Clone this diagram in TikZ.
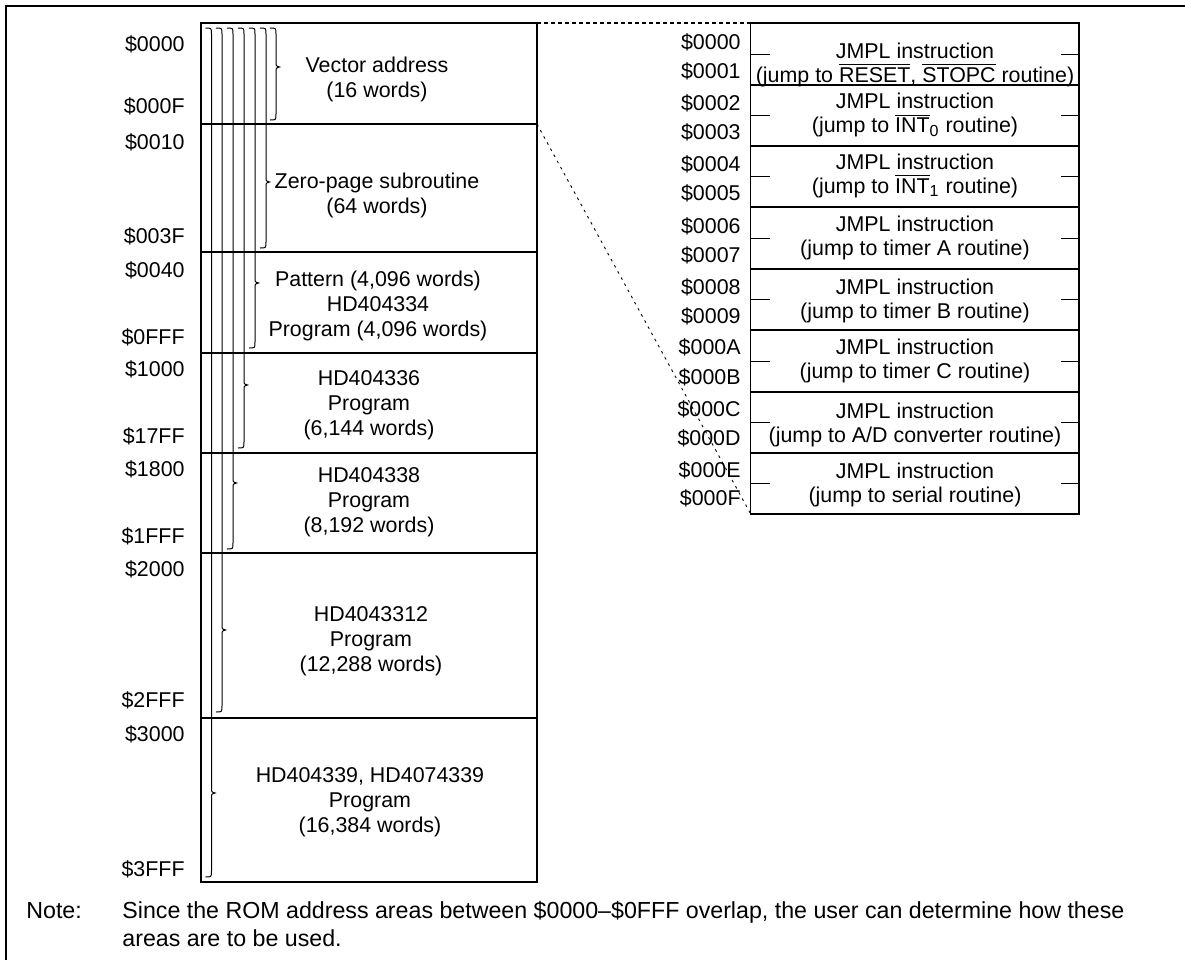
\documentclass[tikz,border=0pt]{standalone}
\usepackage{fontspec}
\setmainfont{Liberation Sans}
\usepackage{tikz}
\pgfdeclarelayer{background}
\pgfdeclarelayer{foreground}
\pgfsetlayers{background,main,foreground}
\tikzset{
  txt/.style={inner sep=0pt, font=\fontsize{10.7}{12.5}\selectfont},
  addr/.style={txt, anchor=east},
  area/.style={txt, align=center},
  jmpl/.style={txt, align=center, font=\fontsize{10.7}{12}\selectfont},
  notetxt/.style={inner sep=0pt, anchor=base west, font=\fontsize{11.6}{14}\selectfont},
  braceline/.style={line width=0.5pt},
  topdash/.style={line width=0.6pt, dash pattern=on 2pt off 1.5pt},
  slantdash/.style={line width=0.45pt, dash pattern=on 1.3pt off 2.2pt},
}
\newcommand{\rombrace}[3]{%
  \draw[braceline] (#1-6,28) .. controls (#1,28) .. (#1,34) -- (#1,#2-5)
    .. controls (#1,#2-1) .. (#1+3.5,#2) .. controls (#1,#2+1) .. (#1,#2+5)
    -- (#1,#3-6) .. controls (#1,#3) .. (#1-6,#3);}
\newcommand{\ovl}[1]{$\overline{\hbox{#1}}$}

\begin{document}
\begin{tikzpicture}[x=0.5pt,y=-0.5pt]
\useasboundingbox (0,0) rectangle (1185,960);
\begin{pgfonlayer}{background}
\draw[line width=1pt] (1185,6) -- (6,6) -- (6,960);
\end{pgfonlayer}
% ROM map
\draw[line width=0.9pt] (201,23) rectangle (537,882);
\draw[line width=0.7pt] (201,124) -- (537,124) (201,252) -- (537,252) (201,353) -- (537,353)
  (201,453) -- (537,453) (201,553) -- (537,553) (201,718) -- (537,718);
\coordinate (mapne) at (537,23);
\coordinate (mapcut) at (537,124);
\rombrace{276}{67}{120}
\rombrace{266}{182}{248}
\rombrace{255}{283}{348}
\rombrace{244}{385}{448}
\rombrace{233}{483}{549}
\rombrace{222}{630}{712}
\rombrace{211.5}{793}{877}
\node[area] (vec) at (377,79.5) {Vector address\\(16 words)};
\node[area] (zero) at (377,195.5) {Zero-page subroutine\\(64 words)};
\node[area] (hd334) at (378,306) {Pattern (4,096 words)\\HD404334\\Program (4,096 words)};
\node[area] (hd336) at (369,405) {HD404336\\Program\\(6,144 words)};
\node[area] (hd338) at (369,502) {HD404338\\Program\\(8,192 words)};
\node[area] (hd3312) at (371,641) {HD4043312\\Program\\(12,288 words)};
\node[area] (hd339) at (370,802) {HD404339, HD4074339\\Program\\(16,384 words)};
\node[addr] (l0000) at (185,44) {\$0000};
\node[addr] (l000F) at (185,106) {\$000F};
\node[addr] (l0010) at (185,142) {\$0010};
\node[addr] (l003F) at (185,236) {\$003F};
\node[addr] (l0040) at (185,270) {\$0040};
\node[addr] (l0FFF) at (185,337) {\$0FFF};
\node[addr] (l1000) at (185,369) {\$1000};
\node[addr] (l17FF) at (185,436) {\$17FF};
\node[addr] (l1800) at (185,469) {\$1800};
\node[addr] (l1FFF) at (185,536) {\$1FFF};
\node[addr] (l2000) at (185,569) {\$2000};
\node[addr] (l2FFF) at (185,700) {\$2FFF};
\node[addr] (l3000) at (185,734) {\$3000};
\node[addr] (l3FFF) at (185,869) {\$3FFF};
% vector table
\draw[line width=0.6pt] (750.7,23) rectangle (1079,514);
\draw[line width=0.6pt] (750.7,85) -- (1079,85) (750.7,146) -- (1079,146) (750.7,207) -- (1079,207)
  (750.7,269) -- (1079,269) (750.7,330) -- (1079,330) (750.7,392) -- (1079,392) (750.7,453) -- (1079,453);
\draw[line width=0.5pt] (750.7,54) -- (770,54) (1061,54) -- (1079,54)
  (750.7,115.5) -- (770,115.5) (1061,115.5) -- (1079,115.5)
  (750.7,176.5) -- (770,176.5) (1061,176.5) -- (1079,176.5)
  (750.7,238) -- (770,238) (1061,238) -- (1079,238)
  (750.7,299.5) -- (770,299.5) (1061,299.5) -- (1079,299.5)
  (750.7,361) -- (770,361) (1061,361) -- (1079,361)
  (750.7,422.5) -- (770,422.5) (1061,422.5) -- (1079,422.5)
  (750.7,483.5) -- (770,483.5) (1061,483.5) -- (1079,483.5);
\coordinate (tabnw) at (750.7,23);
\coordinate (tabsw) at (750.7,514);
\node[jmpl] (jreset) at (915,65) {JMPL instruction\\(jump to \ovl{RESET}, \ovl{STOPC} routine)};
\node[jmpl] (jint0) at (915,115) {JMPL instruction\\(jump to $\overline{\hbox{INT}}_{\hbox{\footnotesize 0}}$ routine)};
\node[jmpl] (jint1) at (915,175.5) {JMPL instruction\\(jump to $\overline{\hbox{INT}}_{\hbox{\footnotesize 1}}$ routine)};
\node[jmpl] (jtma) at (915,237.5) {JMPL instruction\\(jump to timer A routine)};
\node[jmpl] (jtmb) at (915,301) {JMPL instruction\\(jump to timer B routine)};
\node[jmpl] (jtmc) at (915,360.5) {JMPL instruction\\(jump to timer C routine)};
\node[jmpl] (jad) at (915,424.5) {JMPL instruction\\(jump to A/D converter routine)};
\node[jmpl] (jser) at (915,484.5) {JMPL instruction\\(jump to serial routine)};
\node[addr] (r0000) at (741,42) {\$0000};
\node[addr] (r0001) at (741,71) {\$0001};
\node[addr] (r0002) at (741,103.5) {\$0002};
\node[addr] (r0003) at (741,132.5) {\$0003};
\node[addr] (r0004) at (741,164.5) {\$0004};
\node[addr] (r0005) at (741,193.5) {\$0005};
\node[addr] (r0006) at (741,226) {\$0006};
\node[addr] (r0007) at (741,255) {\$0007};
\node[addr] (r0008) at (741,287) {\$0008};
\node[addr] (r0009) at (741,316) {\$0009};
\node[addr] (r000A) at (741,347.5) {\$000A};
\node[addr] (r000B) at (741,377) {\$000B};
\node[addr] (r000C) at (741,409.5) {\$000C};
\node[addr] (r000D) at (741,438) {\$000D};
\node[addr] (r000E) at (741,470.5) {\$000E};
\node[addr] (r000F) at (741,498.5) {\$000F};
\begin{pgfonlayer}{background}
\draw[topdash] (mapne) -- (tabnw);
\draw[slantdash] (mapcut) -- (tabsw);
\end{pgfonlayer}
% note
\node[notetxt] (note) at (26,918) {Note:};
\node[notetxt] (notea) at (122,918) {Since the ROM address areas between \$0000–\$0FFF overlap, the user can determine how these};
\node[notetxt] (noteb) at (122,946) {areas are to be used.};
\end{tikzpicture}
\end{document}
